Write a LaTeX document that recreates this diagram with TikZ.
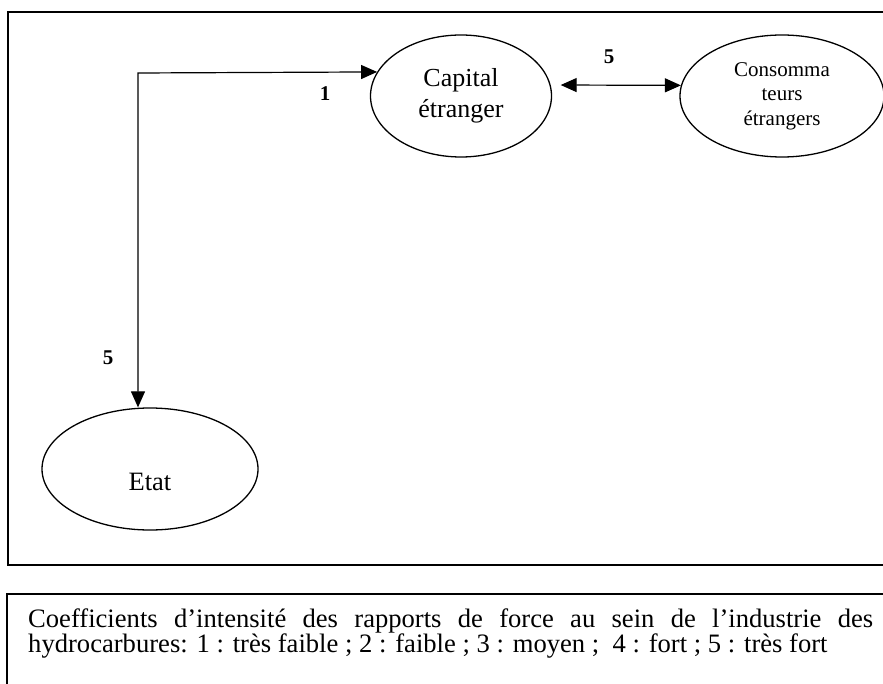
\documentclass[tikz,border=0pt]{standalone}
\usepackage{fontspec}
\setmainfont{Liberation Serif}
\usetikzlibrary{shapes.geometric,arrows.meta}
\begin{document}
\begin{tikzpicture}[x=1pt,y=-1pt,
  >={Triangle[length=16pt,width=14pt]},
  bubble/.style={draw,ellipse,line width=1.3pt,inner sep=0pt,align=center},
  link/.style={line width=1.2pt},
  coef/.style={font=\bfseries\fontsize{21}{24}\selectfont}]
\clip (0,0) rectangle (883,684);
\path[use as bounding box] (0,0) rectangle (883,684);
\draw[line width=1.8pt] (8,12) rectangle (900,565);
\draw[line width=1.5pt] (7,594) rectangle (900,720);
\node[bubble,minimum width=181pt,minimum height=122pt,font=\fontsize{26}{31}\selectfont] (cap) at (461,96) {Capital\\étranger};
\node[bubble,minimum width=204pt,minimum height=122pt,font=\fontsize{21}{24.5}\selectfont] (cons) at (782,96) {Consomma\\teurs\\étrangers};
\node[bubble,minimum width=216pt,minimum height=122pt,font=\fontsize{26.5}{30}\selectfont] (etat) at (150,469) {\smash{\raisebox{-21pt}{Etat}}};
\coordinate (corner) at (138,73);
\draw[link,<->] (etat.north -| corner) -- (corner) -- (cap.164.5);
\draw[link,<->,shorten <=10pt] (cap.7) -- (cons.174);
\node[coef] (c1) at (325,94) {1};
\node[coef] (c2) at (609,57) {5};
\node[coef] (c3) at (108,358) {5};
\node[anchor=base west,align=left,inner sep=0pt,
  font=\fontsize{26.6}{23.4}\selectfont] (legend) at (28,652.4)
  {\makebox[845pt][s]{Coefficients d’intensité des rapports de force au sein de l’industrie des}\\
   \mbox{hydrocarbures: 1 : très faible ; 2 : faible ; 3 : moyen ;\ \ 4 : fort ; 5 : très fort}};
\end{tikzpicture}
\end{document}
